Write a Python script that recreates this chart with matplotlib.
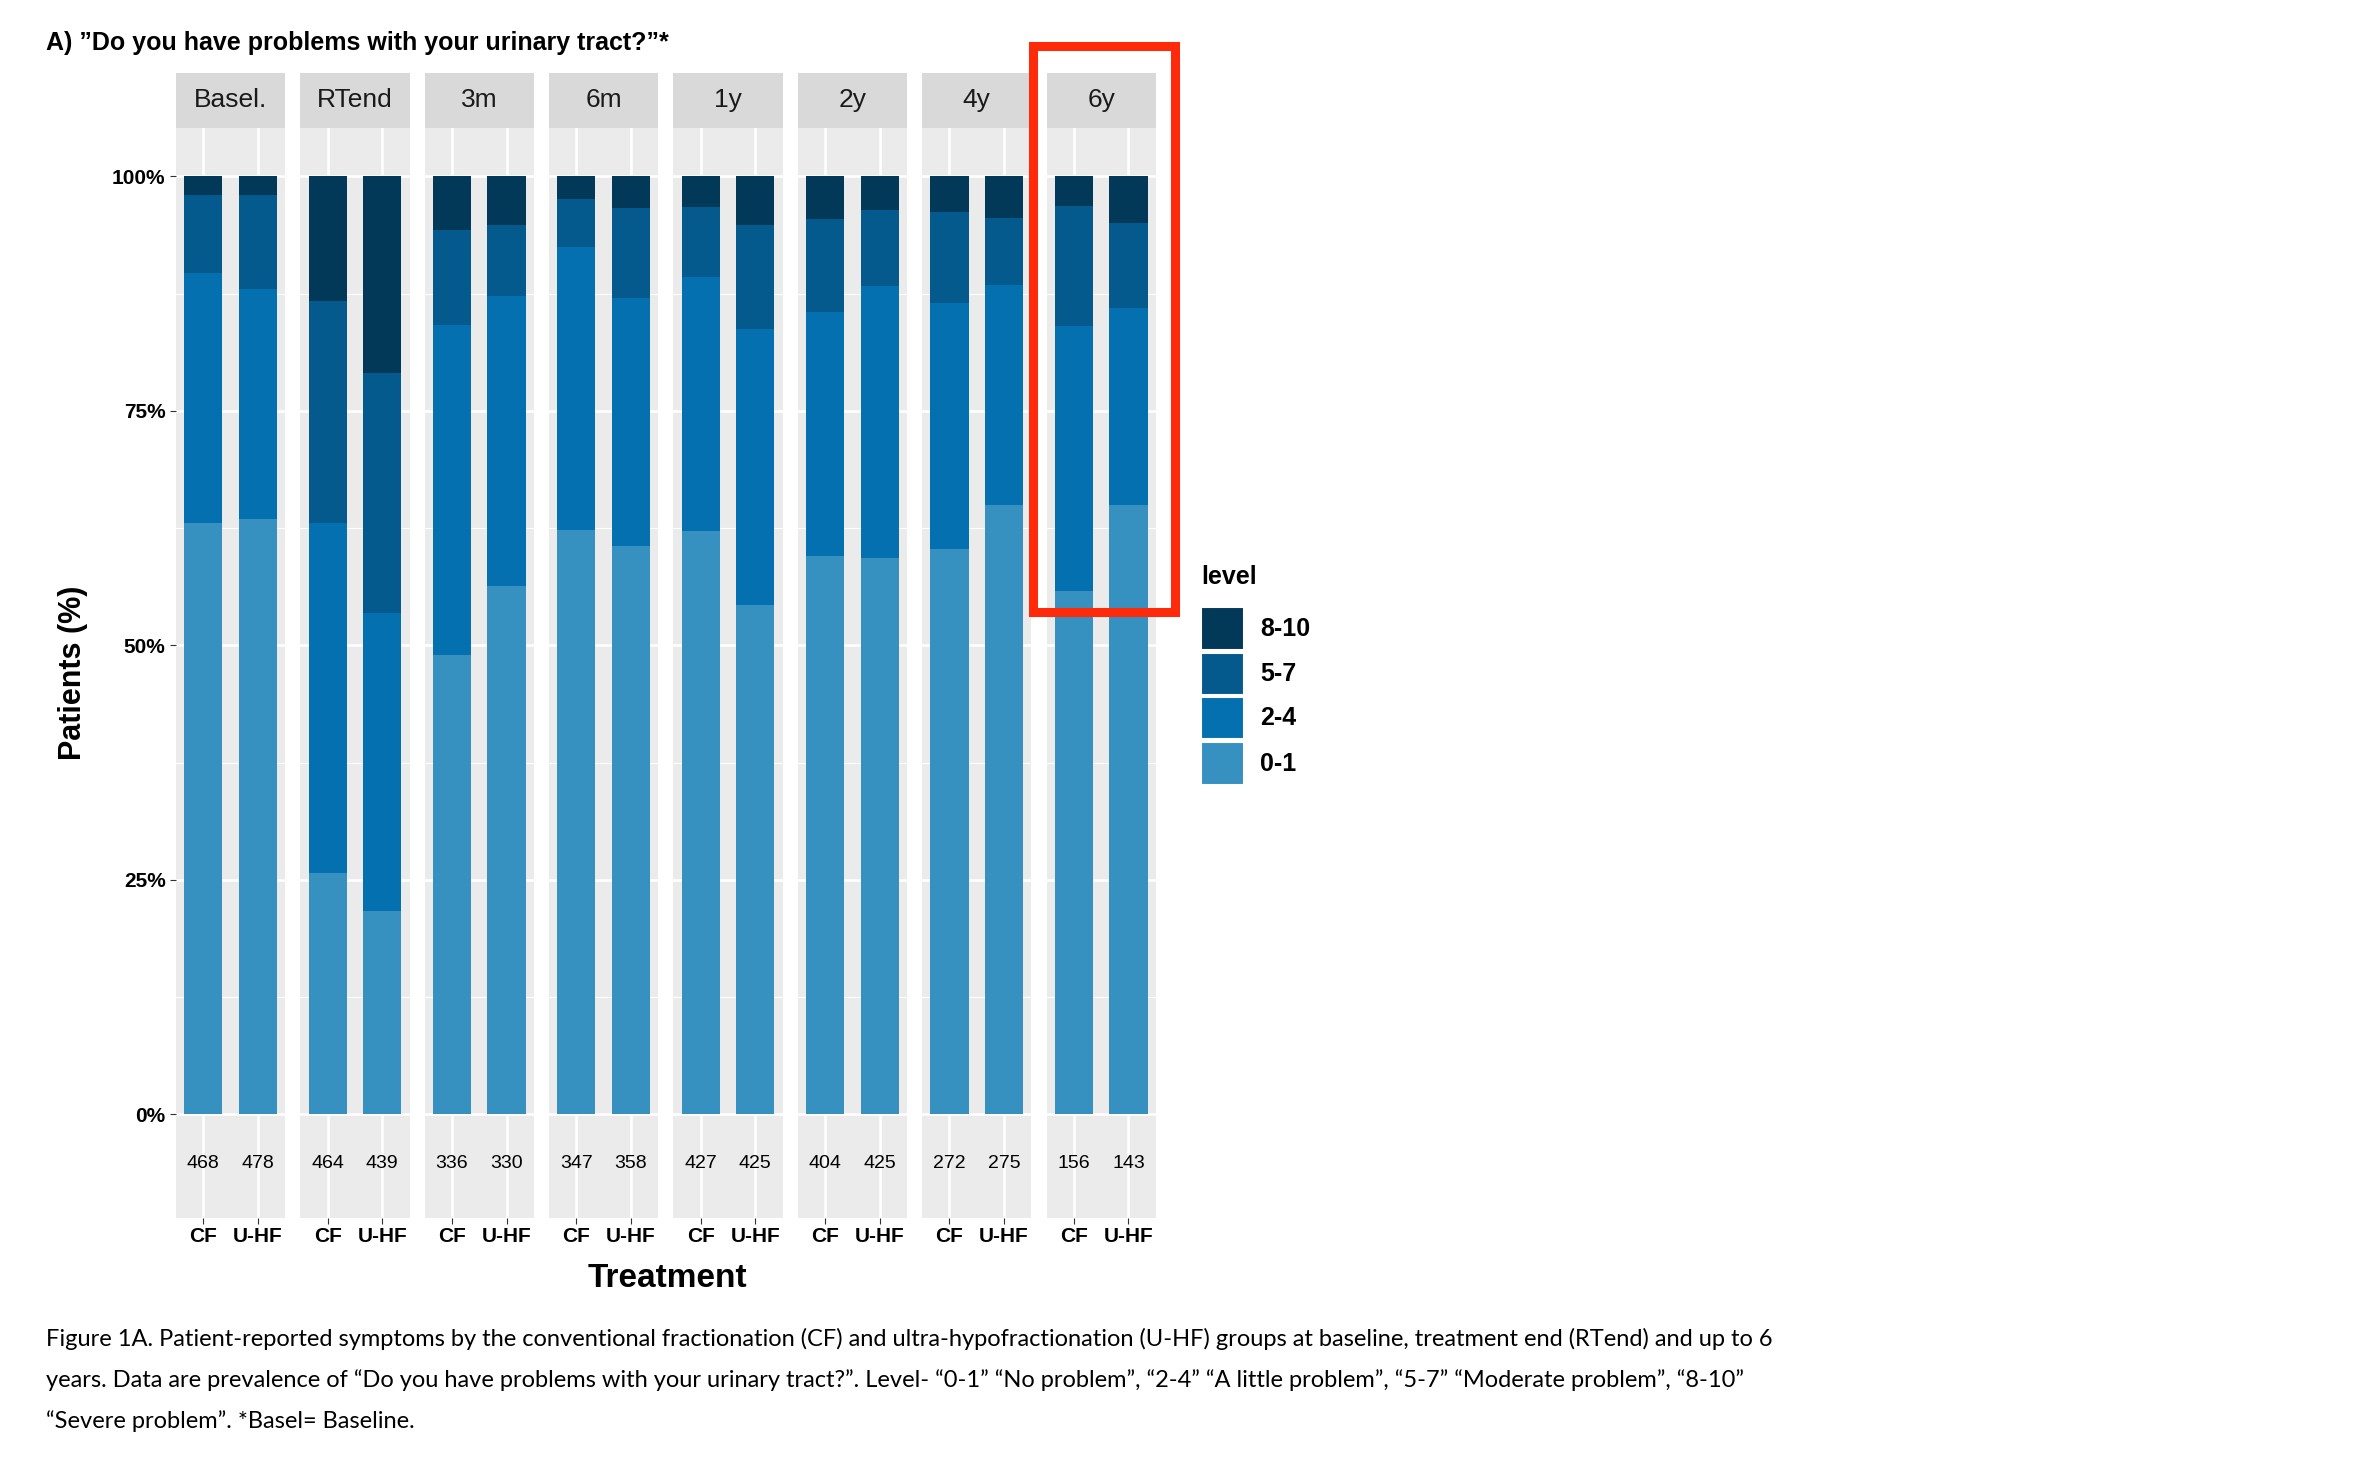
import matplotlib
matplotlib.use('Agg')
import matplotlib.pyplot as plt
from matplotlib.patches import Rectangle
import numpy as np

plt.rcParams['font.family'] = ['Liberation Sans', 'DejaVu Sans']

times = ['Basel.', 'RTend', '3m', '6m', '1y', '2y', '4y', '6y']
groups = ['CF', 'U-HF']
levels = ['0-1', '2-4', '5-7', '8-10']
colors = ['#3690C0', '#0570B0', '#045A8D', '#023858']
# cumulative tops (%) of 0-1, 2-4, 5-7 for CF and U-HF
cf_tops = [[63.0, 89.7, 98.0], [25.7, 63.0, 86.7], [49.0, 84.2, 94.3], [62.3, 92.5, 97.6],
           [62.2, 89.3, 96.7], [59.5, 85.5, 95.5], [60.3, 86.5, 96.2], [55.8, 84.0, 96.8]]
uhf_tops = [[63.5, 88.0, 98.0], [21.7, 53.5, 79.0], [56.3, 87.2, 94.8], [60.6, 87.0, 96.6],
            [54.3, 83.7, 94.8], [59.3, 88.3, 96.4], [65.0, 88.4, 95.6], [65.0, 86.0, 95.0]]
cf_n = [468, 464, 336, 347, 427, 404, 272, 156]
uhf_n = [478, 439, 330, 358, 425, 425, 275, 143]

W, H = 1552, 963
fx = lambda x: x / W
fy = lambda y: 1 - y / H

fig = plt.figure(figsize=(23.54, 14.62), dpi=100)

ymin, ymax = -0.11, 1.052
for i, t in enumerate(times):
    left = 116 + i * 82
    ax = fig.add_axes([fx(left), fy(802), 72 / W, (802 - 84) / H])
    ax.set_facecolor('#EBEBEB')
    ax.set_xlim(0.5, 2.5)
    ax.set_ylim(ymin, ymax)
    for v in [0.125, 0.375, 0.625, 0.875]:
        ax.axhline(v, color='white', lw=0.8, zorder=0)
    for v in [0, 0.25, 0.5, 0.75, 1.0]:
        ax.axhline(v, color='white', lw=1.8, zorder=0)
    for v in [1, 2]:
        ax.axvline(v, color='white', lw=1.8, zorder=0)
    for j, tops in enumerate([cf_tops[i], uhf_tops[i]]):
        edges = [0] + tops + [100]
        for k in range(4):
            ax.bar(j + 1, (edges[k + 1] - edges[k]) / 100, bottom=edges[k] / 100,
                   width=0.7, color=colors[k], zorder=2)
    ax.text(1, -0.052, str(cf_n[i]), ha='center', va='center', fontsize=14)
    ax.text(2, -0.052, str(uhf_n[i]), ha='center', va='center', fontsize=14)
    ax.set_xticks([1, 2])
    ax.set_xticklabels(groups, fontsize=15, fontweight='bold')
    ax.tick_params(axis='x', length=4, color='#333333', pad=3)
    if i == 0:
        ax.set_yticks([0, 0.25, 0.5, 0.75, 1.0])
        ax.set_yticklabels(['0%', '25%', '50%', '75%', '100%'], fontsize=15, fontweight='bold')
        ax.tick_params(axis='y', length=4, color='#333333')
    else:
        ax.set_yticks([])
    for s in ax.spines.values():
        s.set_visible(False)
    # strip
    fig.patches.append(Rectangle((fx(left), fy(84)), 72 / W, 36 / H, transform=fig.transFigure,
                                 facecolor='#D9D9D9', edgecolor='none'))
    fig.text(fx(left + 36), fy(66), t, ha='center', va='center', fontsize=19, color='#1A1A1A')

fig.text(fx(30), fy(28), 'A) \u201dDo you have problems with your urinary tract?\u201d*',
         fontsize=18, fontweight='bold', va='center')
fig.text(fx(48), fy(443), 'Patients (%)', rotation=90, fontsize=22, fontweight='bold',
         ha='center', va='center')
fig.text(fx(440), fy(842), 'Treatment', fontsize=24, fontweight='bold', ha='center', va='center')

# legend
fig.text(fx(792), fy(380), 'level', fontsize=18, fontweight='bold', va='center')
for k, (lab, y) in enumerate(zip(['8-10', '5-7', '2-4', '0-1'], [414, 444, 473, 503])):
    c = colors[3 - k]
    fig.patches.append(Rectangle((fx(792), fy(y + 14)), 28 / W, 28 / H, transform=fig.transFigure,
                                 facecolor=c, edgecolor='white', lw=1.5))
    fig.text(fx(831), fy(y), lab, fontsize=18, fontweight='bold', va='center')

# highlight box
fig.patches.append(Rectangle((fx(681), fy(403)), 94 / W, 373 / H, transform=fig.transFigure,
                             facecolor='none', edgecolor='#FF2A0A', lw=6.5, zorder=10))

cap = ['Figure 1A. Patient-reported symptoms by the conventional fractionation (CF) and ultra-hypofractionation (U-HF) groups at baseline, treatment end (RTend) and up to 6',
       'years. Data are prevalence of \u201cDo you have problems with your urinary tract?\u201d. Level- \u201c0-1\u201d \u201cNo problem\u201d, \u201c2-4\u201d \u201cA little problem\u201d, \u201c5-7\u201d \u201cModerate problem\u201d, \u201c8-10\u201d',
       '\u201cSevere problem\u201d. *Basel= Baseline.']
for k, line in enumerate(cap):
    fig.text(fx(30), fy(882 + 27 * k), line, fontsize=17, va='center', family=['Lato', 'DejaVu Sans'])

fig.savefig('out.png', dpi=100)
